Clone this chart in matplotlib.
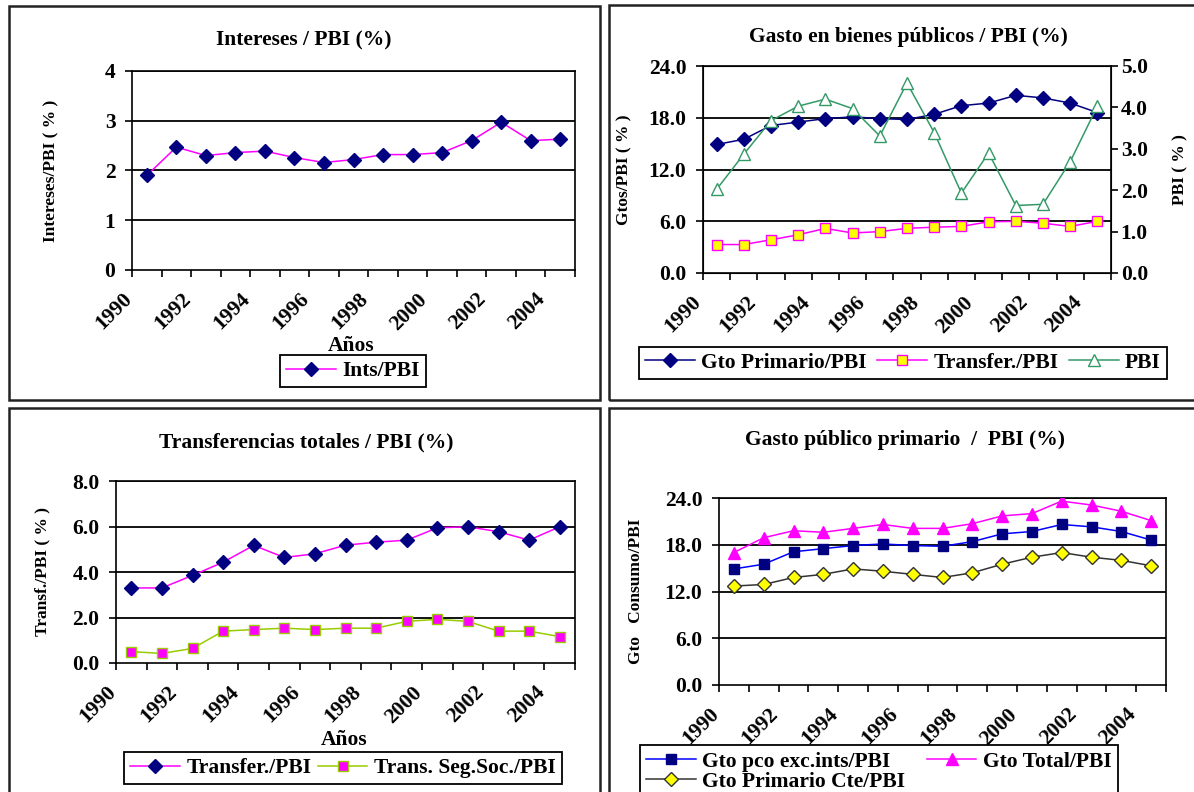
import numpy as np
import matplotlib
matplotlib.use("Agg")
from matplotlib import pyplot as plt
from matplotlib.patches import Rectangle
from matplotlib.transforms import ScaledTranslation

plt.rcParams["font.family"] = ["Liberation Serif", "DejaVu Serif"]
plt.rcParams["font.weight"] = "bold"
plt.rcParams["axes.labelweight"] = "bold"

years = [str(y) for y in range(1990, 2005)]

# Intereses / PBI
ints_pbi = [1.90, 2.47, 2.30, 2.36, 2.39, 2.26, 2.16, 2.22, 2.32, 2.32, 2.36, 2.60, 2.97, 2.60, 2.63]

# Gasto primario, transferencias, crecimiento del PBI
gto_primario = [14.9, 15.5, 17.1, 17.5, 17.9, 18.1, 17.9, 17.8, 18.4, 19.4, 19.7, 20.6, 20.3, 19.7, 18.6]
transfer = [3.30, 3.30, 3.85, 4.43, 5.17, 4.64, 4.80, 5.18, 5.31, 5.40, 5.94, 5.99, 5.77, 5.40, 5.99]
pbi = [2.02, 2.87, 3.68, 4.03, 4.20, 3.97, 3.31, 4.59, 3.39, 1.93, 2.90, 1.63, 1.66, 2.69, 4.03]

# Transferencias a la seguridad social
seg_soc = [0.50, 0.42, 0.64, 1.40, 1.47, 1.53, 1.47, 1.53, 1.53, 1.83, 1.92, 1.83, 1.40, 1.40, 1.16]

# Gasto total y gasto primario corriente
gto_total = [17.0, 18.9, 19.8, 19.6, 20.1, 20.6, 20.1, 20.1, 20.7, 21.7, 22.0, 23.6, 23.1, 22.3, 21.1]
gto_cte = [12.7, 12.9, 13.8, 14.2, 14.9, 14.6, 14.2, 13.8, 14.4, 15.5, 16.4, 17.0, 16.4, 16.0, 15.3]

W, H = 1194, 792
fig = plt.figure(figsize=(W / 100, H / 100), dpi=100)
FS = 15.5
YFS = 12.5


def fx(x):
    return x / W


def fy(y):
    return 1 - y / H


def px_axes(left, top, right, bottom):
    return fig.add_axes([fx(left), fy(bottom), (right - left) / W, (bottom - top) / H])


def style_axes(ax, ymax, ystep, fmt):
    x = np.arange(len(years))
    ax.set_xlim(-0.5, len(years) - 0.5)
    ax.set_ylim(0, ymax)
    ax.set_xticks(np.arange(-0.5, len(years), 1))
    ax.set_xticklabels([])
    ax.set_xticks(x[::2], minor=True)
    ax.set_xticklabels(years[::2], minor=True, rotation=45, ha="right",
                       va="center", rotation_mode="anchor", fontsize=FS)
    ax.tick_params(axis="x", which="major", direction="out", length=5, width=1.2)
    ax.tick_params(axis="x", which="minor", length=0, pad=19)
    shift = ScaledTranslation(-0.18, 0, fig.dpi_scale_trans)
    for lab in ax.get_xticklabels(minor=True):
        lab.set_transform(lab.get_transform() + shift)
    ticks = np.arange(0, ymax + ystep / 2, ystep)
    ax.set_yticks(ticks)
    ax.set_yticklabels([fmt.format(t) for t in ticks], fontsize=FS)
    ax.tick_params(axis="y", direction="out", length=5, width=1.2, pad=7)
    for t in ticks[1:]:
        ax.axhline(t, color="black", lw=1.3, zorder=1)
    for s in ax.spines.values():
        s.set_linewidth(1.2)
    return x


def ylabel_at(axis, text, xpx, top, bottom):
    axis.set_label_text(text, fontsize=YFS)
    axis.set_label_coords(fx(xpx), fy((top + bottom) / 2), transform=fig.transFigure)


def xlabel_at(ax, xpx, ypx):
    ax.set_xlabel("Años", fontsize=FS, va="center")
    ax.xaxis.set_label_coords(fx(xpx), fy(ypx), transform=fig.transFigure)


def legend(ax, handles, anchor, loc, ncol, colsp, **kw):
    leg = ax.legend(handles=handles, loc=loc, bbox_to_anchor=anchor, bbox_transform=fig.transFigure,
                    ncol=ncol, fancybox=False, framealpha=1, edgecolor="black",
                    fontsize=FS, handlelength=2.3, borderpad=0.3, columnspacing=colsp,
                    handletextpad=0.3, borderaxespad=0, **kw)
    leg.get_frame().set_linewidth(1.3)
    leg.set_zorder(10)
    return leg


# panel frames
for (l, t, r, b) in [(9, 6, 600, 400), (609, 5, 1200, 400), (9, 408, 600, 800), (609, 408, 1200, 800)]:
    fig.patches.append(Rectangle((fx(l), fy(b)), (r - l) / W, (b - t) / H, transform=fig.transFigure,
                                 fill=False, edgecolor="#222222", lw=1.8))

# Intereses / PBI
ax1 = px_axes(132, 71, 575, 270)
x = style_axes(ax1, 4, 1, "{:.0f}")
h1, = ax1.plot(x, ints_pbi, color="#FF00FF", lw=1.1, marker="D", ms=7, mfc="#000080",
               mec="#000080", label="Ints/PBI", zorder=3)
ylabel_at(ax1.yaxis, "Intereses/PBI ( % )", 59, 71, 270)
xlabel_at(ax1, 351, 346)
fig.text(fx(304), fy(40), "Intereses / PBI (%)", ha="center", va="center", fontsize=FS)
legend(ax1, [h1], (fx(353), fy(371)), "center", 1, 0.5)

# Gasto en bienes públicos / PBI
ax2 = px_axes(703, 66, 1111, 273)
x = style_axes(ax2, 24, 6, "{:.1f}")
l1, = ax2.plot(x, gto_primario, color="#000080", lw=1.1, marker="D", ms=7, mfc="#000080",
               mec="#000080", label="Gto Primario/PBI", zorder=3)
l2, = ax2.plot(x, transfer, color="#FF00FF", lw=1.1, marker="s", ms=6.5, mfc="#FFFF00",
               mec="#FF00FF", label="Transfer./PBI", zorder=3)
ylabel_at(ax2.yaxis, "Gtos/PBI ( % )", 632, 66, 273)
# axis title sits behind the legend box
xlabel_at(ax2, 905, 357)
ax2r = ax2.twinx()
ax2r.set_ylim(0, 5)
rticks = np.arange(0, 5.5, 1)
ax2r.set_yticks(rticks)
ax2r.set_yticklabels(["{:.1f}".format(v) for v in rticks], fontsize=FS)
ax2r.tick_params(axis="y", direction="out", length=5, width=1.2, pad=2)
l3, = ax2r.plot(x, pbi, color="#339966", lw=1.1, marker="^", ms=8, mfc="white",
                mec="#339966", label="PBI", zorder=3)
ylabel_at(ax2r.yaxis, "PBI ( % )", 1172, 66, 273)
fig.text(fx(908), fy(37), "Gasto en bienes públicos / PBI (%)", ha="center", va="center", fontsize=FS)
legend(ax2r, [l1, l2, l3], (fx(903), fy(363)), "center", 3, 0.5)

# Transferencias totales / PBI
ax3 = px_axes(116, 481, 575, 663)
x = style_axes(ax3, 8, 2, "{:.1f}")
t1, = ax3.plot(x, transfer, color="#FF00FF", lw=1.1, marker="D", ms=7, mfc="#000080",
               mec="#000080", label="Transfer./PBI", zorder=3)
t2, = ax3.plot(x, seg_soc, color="#99CC00", lw=1.1, marker="s", ms=6.5, mfc="#FF00FF",
               mec="#99CC00", label="Trans. Seg.Soc./PBI", zorder=3)
ylabel_at(ax3.yaxis, "Transf./PBI ( % )", 50, 481, 663)
xlabel_at(ax3, 344, 740)
fig.text(fx(306), fy(442), "Transferencias totales / PBI (%)", ha="center", va="center", fontsize=FS)
legend(ax3, [t1, t2], (fx(343), fy(768)), "center", 2, 0.3)

# Gasto público primario / PBI
ax4 = px_axes(719, 498, 1166, 685)
x = style_axes(ax4, 24, 6, "{:.1f}")
g1, = ax4.plot(x, gto_primario, color="#0000FF", lw=1.1, marker="s", ms=6.5, mfc="#000080",
               mec="#000080", label="Gto pco exc.ints/PBI", zorder=3)
g2, = ax4.plot(x, gto_cte, color="#333333", lw=1.1, marker="D", ms=7, mfc="#FFFF00",
               mec="#333333", label="Gto Primario Cte/PBI", zorder=3)
g3, = ax4.plot(x, gto_total, color="#FF00FF", lw=1.1, marker="^", ms=8, mfc="#FF00FF",
               mec="#FF00FF", label="Gto Total/PBI", zorder=3)
ylabel_at(ax4.yaxis, "Gto   Consumo/PBI", 644, 498, 685)
fig.text(fx(905), fy(440), "Gasto público primario  /  PBI (%)", ha="center", va="center", fontsize=FS)
legend(ax4, [g1, g2, g3], (fx(640), fy(745)), "upper left", 2, 1.0, labelspacing=0.0)

fig.savefig("out.png", dpi=100)
